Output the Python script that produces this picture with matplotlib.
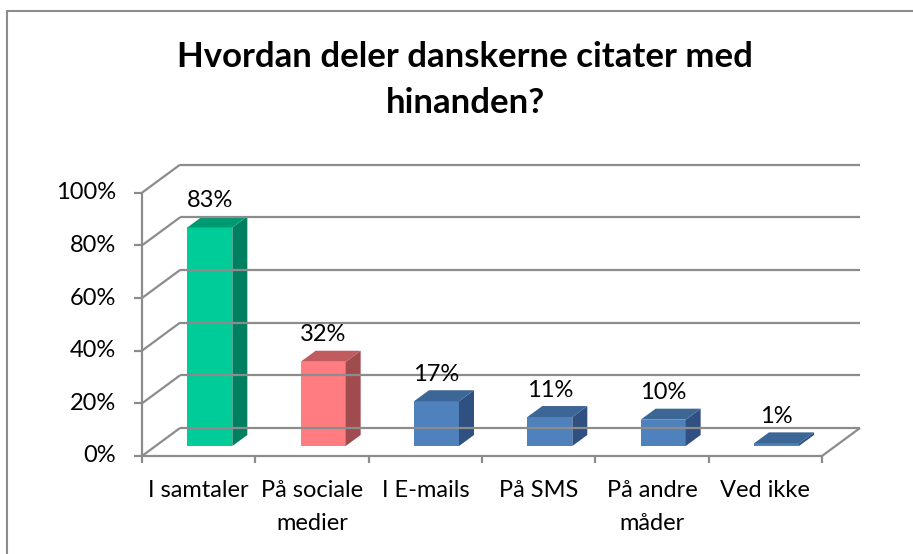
import matplotlib.pyplot as plt
from matplotlib.patches import Polygon, Rectangle

categories = ["I samtaler", "På sociale\nmedier", "I E-mails", "På SMS", "På andre\nmåder", "Ved ikke"]
values = [83, 32, 17, 11, 10, 1]
y_ticks = [0, 20, 40, 60, 80, 100]
y_labels = ["0%", "20%", "40%", "60%", "80%", "100%"]
title = "Hvordan deler danskerne citater med\nhinanden?"

front_cols = ["#00cc99", "#ff7c80", "#4f81bd", "#4f81bd", "#4f81bd", "#4f81bd"]
side_cols = ["#008060", "#a04c4f", "#2f5080", "#2f5080", "#2f5080", "#2f5080"]
top_cols = ["#009a72", "#c05c60", "#3c6696", "#3c6696", "#3c6696", "#3c6696"]

plt.rcParams['font.family'] = ['Lato', 'DejaVu Sans']

W, H = 913, 554
fig = plt.figure(figsize=(W / 100, H / 100), dpi=100)

# front plane: x 142..822 px, 0% at y=456, 100% at y=193
px_cat = 113.33
px_pct = 2.633
left, right, bottom, top = 142, 860, 456, 162
ax = fig.add_axes([left / W, (H - bottom) / H, (right - left) / W, (bottom - top) / H])
ax.set_xlim(0, (right - left) / px_cat)
ax.set_ylim(0, (bottom - top) / px_pct)
ax.axis('off')

n = len(categories)
DX, DY = 38 / px_cat, 28 / px_pct
grid = dict(color="#8c8c8c", lw=1.6, clip_on=False, solid_capstyle='butt')

# walls / gridlines
for v in y_ticks:
    ax.plot([0, DX], [v, v + DY], **grid)
    ax.plot([DX, n + DX], [v + DY, v + DY], **grid)
    ax.plot([-8 / px_cat, 0], [v, v], **grid)
ax.plot([0, 0], [0, 100], **grid)
ax.plot([0, n], [0, 0], **grid)
ax.plot([n, n + DX], [0, DY], **grid)
for k in range(n + 1):
    ax.plot([k, k], [0, -7 / px_pct], **grid)

# bars
bw = 45 / px_cat
b0 = 10 / px_pct
sdx, sdy = 15 / px_cat, 11 / px_pct
for i, v in enumerate(values):
    x0 = i + 0.40
    y1 = b0 + v
    ax.add_patch(Rectangle((x0, b0), bw, v, fc=front_cols[i], ec='none', clip_on=False))
    ax.add_patch(Polygon([(x0 + bw, b0), (x0 + bw + sdx, b0 + sdy), (x0 + bw + sdx, y1 + sdy), (x0 + bw, y1)],
                         fc=side_cols[i], ec='none', clip_on=False))
    ax.add_patch(Polygon([(x0, y1), (x0 + sdx, y1 + sdy), (x0 + bw + sdx, y1 + sdy), (x0 + bw, y1)],
                         fc=top_cols[i], ec='none', clip_on=False))
    ax.text(x0 + bw / 2, y1 + 27 / px_pct, f"{v}%", ha='center', va='center', fontsize=17, clip_on=False)

for v, lab in zip(y_ticks, y_labels):
    ax.text(-26 / px_cat, v, lab, ha='right', va='center', fontsize=17)

for i, lab in enumerate(categories):
    ax.text(i + 0.5, -24 / px_pct, lab, ha='center', va='top', fontsize=17, linespacing=1.7)

fig.text(465 / W, 1 - 80 / H, title, ha='center', va='center', fontsize=25, fontweight='bold', linespacing=1.55)

# chart area border
fig.patches.append(Rectangle((7 / W, -0.1), 1.2, 1 - 11 / H + 0.1, transform=fig.transFigure,
                             fc='none', ec='#8c8c8c', lw=1.5))

fig.savefig("out.png", dpi=100)
